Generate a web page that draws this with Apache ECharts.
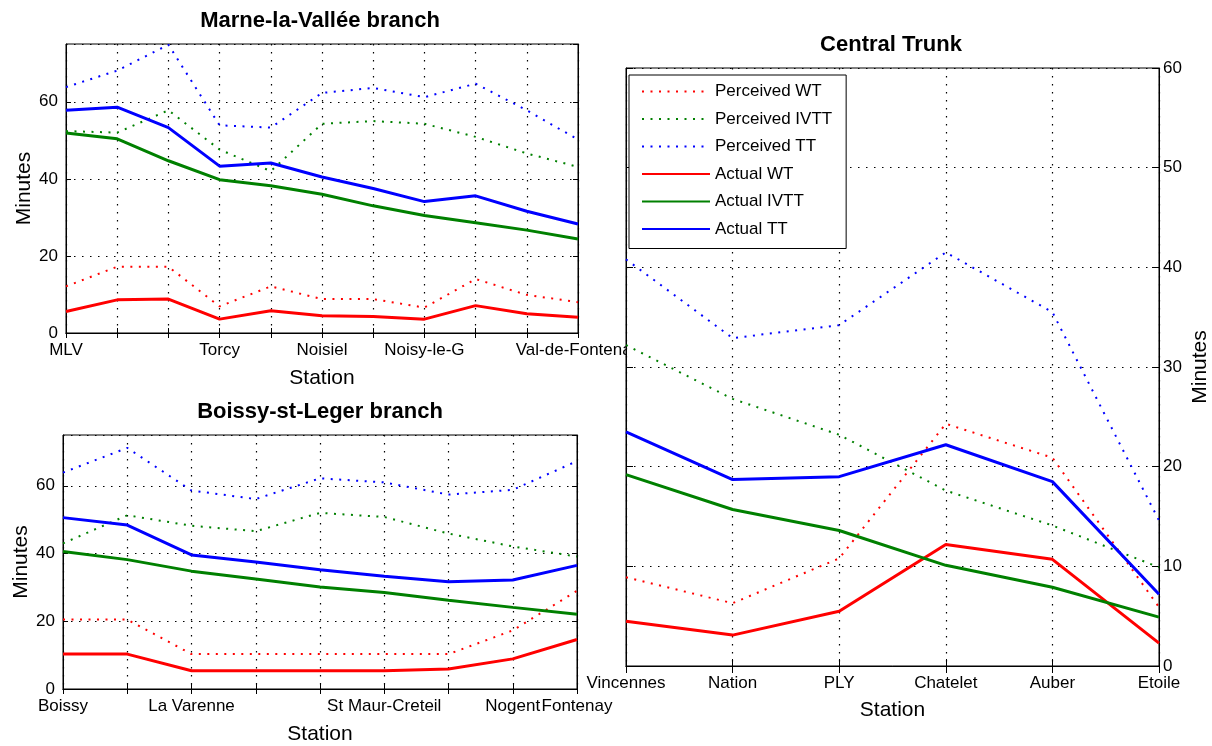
<!DOCTYPE html>
<html>
<head>
<meta charset="utf-8">
<script src="https://cdn.jsdelivr.net/npm/echarts@6/dist/echarts.min.js"></script>
<style>
  html, body { margin: 0; padding: 0; background: #fff; }
  #main { width: 1212px; height: 746px; }
</style>
</head>
<body>
<div id="main"></div>
<script>
// station tick labels (blank = unlabeled station)
const mlvStations = ['MLV', '', '', 'Torcy', '', 'Noisiel', '', 'Noisy-le-G', '', '', 'Val-de-Fontenay'];
const boissyStations = ['Boissy', '', 'La Varenne', '', '', 'St Maur-Creteil', '', 'Nogent', 'Fontenay'];
const trunkStations = ['Vincennes', 'Nation', 'PLY', 'Chatelet', 'Auber', 'Etoile'];

// Marne-la-Vallée branch (minutes)
const mlvPercWT   = [12.1, 17.2, 17.2, 6.9, 12.1, 8.8, 8.8, 6.6, 14.0, 9.9, 8.0];
const mlvPercIVTT = [52.4, 52.0, 57.8, 47.6, 42.0, 54.3, 55.0, 54.3, 50.9, 46.6, 43.1];
const mlvPercTT   = [63.8, 68.1, 74.8, 53.9, 53.3, 62.3, 63.6, 61.2, 64.7, 57.8, 50.2];
const mlvWT       = [5.6, 8.6, 8.8, 3.6, 5.8, 4.5, 4.3, 3.6, 7.1, 5.0, 4.1];
const mlvIVTT     = [51.9, 50.4, 44.7, 39.8, 38.2, 36.0, 33.0, 30.5, 28.6, 26.7, 24.4];
const mlvTT       = [57.8, 58.6, 53.3, 43.3, 44.1, 40.5, 37.5, 34.1, 35.6, 31.6, 28.3];

// Boissy-st-Leger branch
const bslPercWT   = [20.5, 20.5, 10.3, 10.3, 10.3, 10.3, 10.3, 17.3, 29.0];
const bslPercIVTT = [43.0, 51.3, 48.2, 46.6, 52.0, 50.8, 45.9, 42.1, 39.1];
const bslPercTT   = [63.9, 71.2, 58.6, 56.1, 62.2, 61.0, 57.4, 58.8, 67.3];
const bslWT       = [10.3, 10.3, 5.4, 5.4, 5.4, 5.4, 5.9, 8.9, 14.6];
const bslIVTT     = [40.6, 38.2, 34.8, 32.5, 30.1, 28.5, 26.2, 24.1, 22.1];
const bslTT       = [50.6, 48.4, 39.6, 37.5, 35.2, 33.3, 31.7, 32.2, 36.5];

// Central Trunk
const ctPercWT   = [8.9, 6.3, 10.8, 24.3, 20.9, 5.9];
const ctPercIVTT = [32.2, 26.8, 23.2, 17.6, 14.1, 9.9];
const ctPercTT   = [40.8, 32.9, 34.2, 41.5, 35.5, 14.6];
const ctWT       = [4.5, 3.1, 5.5, 12.2, 10.7, 2.3];
const ctIVTT     = [19.2, 15.7, 13.6, 10.1, 7.9, 4.9];
const ctTT       = [23.5, 18.7, 19.0, 22.2, 18.5, 7.2];

const seriesNames = ['Perceived WT', 'Perceived IVTT', 'Perceived TT', 'Actual WT', 'Actual IVTT', 'Actual TT'];

const RED = '#ff0000', GREEN = '#008000', BLUE = '#0000ff';
const FONT = 'Liberation Sans, Arial, sans-serif';
const gridLine = { color: '#000', width: 1.2, type: [1.5, 6.5] };

function line(name, data, color, dotted, idx, z) {
  return {
    name: name,
    type: 'line',
    xAxisIndex: idx,
    yAxisIndex: idx,
    data: data,
    symbol: 'none',
    z: z,
    lineStyle: { color: color, width: dotted ? 2 : 3, type: dotted ? [2, 6.5] : 'solid' },
    itemStyle: { color: color }
  };
}

function bottomAxis(grid, data, tick, gap, z) {
  return {
    type: 'category', gridIndex: grid, data: data, boundaryGap: false, position: 'bottom', z: z,
    name: 'Station', nameLocation: 'middle', nameGap: gap,
    nameTextStyle: { fontSize: 21, color: '#000', fontFamily: FONT },
    axisLine: { lineStyle: { color: '#000', width: 1 } },
    axisTick: { inside: true, length: tick, interval: 0, lineStyle: { color: '#000' } },
    axisLabel: { interval: 0, fontSize: 17, color: '#000', fontFamily: FONT, margin: 9 },
    splitLine: { show: true, interval: 0, lineStyle: gridLine }
  };
}

function topAxis(grid, data, tick, z) {
  return {
    type: 'category', gridIndex: grid, data: data, boundaryGap: false, position: 'top', z: z,
    axisLine: { lineStyle: { color: '#000', width: 1 } },
    axisTick: { inside: true, length: tick, interval: 0, lineStyle: { color: '#000' } },
    axisLabel: { show: false },
    splitLine: { show: false }
  };
}

function valueAxis(grid, pos, max, step, tick, main, gap, margin, z) {
  return {
    type: 'value', gridIndex: grid, position: pos, min: 0, max: max, interval: step, z: z,
    name: main ? 'Minutes' : '', nameLocation: 'middle', nameGap: gap,
    nameTextStyle: { fontSize: 21, color: '#000', fontFamily: FONT },
    axisLine: { show: true, lineStyle: { color: '#000', width: 1 } },
    axisTick: { show: true, inside: true, length: tick, lineStyle: { color: '#000' } },
    axisLabel: { show: main, showMaxLabel: max % step === 0, fontSize: 17, color: '#000', fontFamily: FONT, margin: margin },
    splitLine: { show: main, lineStyle: gridLine }
  };
}

function title(text, x, y) {
  return {
    text: text, left: x, top: y, textAlign: 'center', padding: 0,
    textStyle: { fontSize: 22, fontWeight: 'bold', color: '#000', fontFamily: FONT }
  };
}

const chart = echarts.init(document.getElementById('main'));
chart.setOption({
  animation: false,
  backgroundColor: '#fff',
  title: [
    title('Marne-la-Vallée branch', 320, 10),
    title('Boissy-st-Leger branch', 320, 401),
    title('Central Trunk', 891, 34)
  ],
  grid: [
    { left: 66, top: 44, width: 512, height: 289, show: true, backgroundColor: '#fff', borderColor: '#000', borderWidth: 1, z: 0 },
    { left: 63, top: 435, width: 514, height: 258, show: true, backgroundColor: '#fff', borderColor: '#000', borderWidth: 1, z: 0 },
    { left: 626, top: 68, width: 533, height: 598, show: true, backgroundColor: '#fff', borderColor: '#000', borderWidth: 1, z: 3 }
  ],
  legend: {
    data: seriesNames,
    orient: 'vertical',
    left: 629, top: 75,
    padding: [8, 14, 11, 12],
    itemWidth: 68, itemHeight: 14, itemGap: 10.5,
    backgroundColor: '#fff', borderColor: '#000', borderWidth: 1, borderRadius: 0,
    textStyle: { fontSize: 17, color: '#000', fontFamily: FONT },
    itemStyle: { color: 'rgba(0,0,0,0)', borderWidth: 0, opacity: 0 },
    z: 10
  },
  xAxis: [
    bottomAxis(0, mlvStations, 5, 35, 0), topAxis(0, mlvStations, 5, 0),
    bottomAxis(1, boissyStations, 5, 35, 0), topAxis(1, boissyStations, 5, 0),
    bottomAxis(2, trunkStations, 7, 34, 4), topAxis(2, trunkStations, 7, 4)
  ],
  yAxis: [
    valueAxis(0, 'left', 75, 20, 5, true, 31, 8, 0), valueAxis(0, 'right', 75, 20, 5, false, 0, 8, 0),
    valueAxis(1, 'left', 75, 20, 5, true, 29, 8, 0), valueAxis(1, 'right', 75, 20, 5, false, 0, 8, 0),
    valueAxis(2, 'right', 60, 10, 7, true, 31, 4, 4), valueAxis(2, 'left', 60, 10, 7, false, 0, 4, 4)
  ],
  series: [
    line('Perceived WT', mlvPercWT, RED, true, 0, 2),
    line('Perceived IVTT', mlvPercIVTT, GREEN, true, 0, 2),
    line('Perceived TT', mlvPercTT, BLUE, true, 0, 2),
    line('Actual WT', mlvWT, RED, false, 0, 2),
    line('Actual IVTT', mlvIVTT, GREEN, false, 0, 2),
    line('Actual TT', mlvTT, BLUE, false, 0, 2),

    line('Perceived WT', bslPercWT, RED, true, 2, 2),
    line('Perceived IVTT', bslPercIVTT, GREEN, true, 2, 2),
    line('Perceived TT', bslPercTT, BLUE, true, 2, 2),
    line('Actual WT', bslWT, RED, false, 2, 2),
    line('Actual IVTT', bslIVTT, GREEN, false, 2, 2),
    line('Actual TT', bslTT, BLUE, false, 2, 2),

    line('Perceived WT', ctPercWT, RED, true, 4, 6),
    line('Perceived IVTT', ctPercIVTT, GREEN, true, 4, 6),
    line('Perceived TT', ctPercTT, BLUE, true, 4, 6),
    line('Actual WT', ctWT, RED, false, 4, 6),
    line('Actual IVTT', ctIVTT, GREEN, false, 4, 6),
    line('Actual TT', ctTT, BLUE, false, 4, 6)
  ]
});
</script>
</body>
</html>
